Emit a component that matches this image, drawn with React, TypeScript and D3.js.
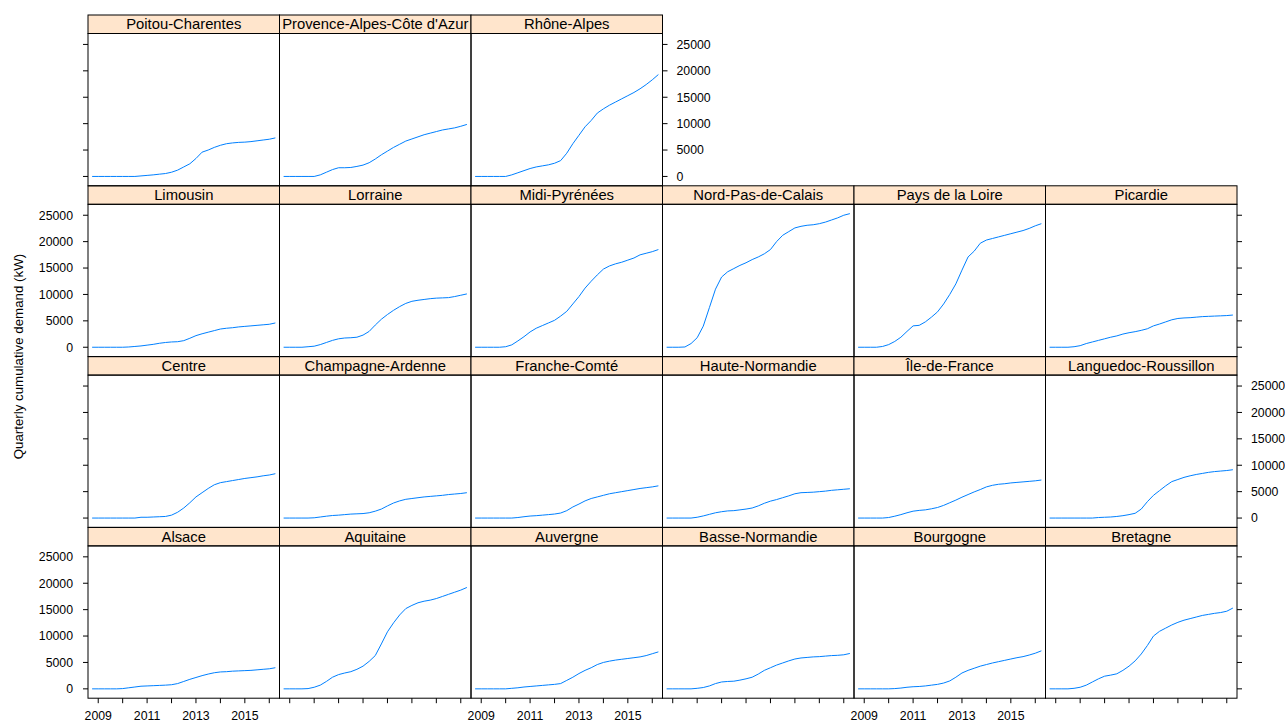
import React from 'react';
import * as d3 from 'd3';

const quarters = [
  2008.75, 2009.0, 2009.25, 2009.5, 2009.75, 2010.0, 2010.25, 2010.5, 2010.75,
  2011.0, 2011.25, 2011.5, 2011.75, 2012.0, 2012.25, 2012.5, 2012.75,
  2013.0, 2013.25, 2013.5, 2013.75, 2014.0, 2014.25, 2014.5, 2014.75,
  2015.0, 2015.25, 2015.5, 2015.75, 2016.0, 2016.25,
];

// panel order as lattice draws it: bottom row first, left to right
const regions = [
  'Alsace', 'Aquitaine', 'Auvergne', 'Basse-Normandie', 'Bourgogne', 'Bretagne',
  'Centre', 'Champagne-Ardenne', 'Franche-Comté', 'Haute-Normandie', 'Île-de-France', 'Languedoc-Roussillon',
  'Limousin', 'Lorraine', 'Midi-Pyrénées', 'Nord-Pas-de-Calais', 'Pays de la Loire', 'Picardie',
  'Poitou-Charentes', "Provence-Alpes-Côte d'Azur", 'Rhône-Alpes',
];

const alsace = [0,0,0,0,0,50,200,350,500,550,600,650,700,780,1000,1400,1800,2150,2500,2800,3050,3200,3250,3350,3400,3450,3500,3600,3700,3800,4000];
const aquitaine = [0,0,0,0,50,300,700,1400,2200,2700,3000,3250,3700,4300,5200,6300,8500,10800,12500,14000,15200,15800,16300,16600,16800,17100,17500,17900,18300,18700,19200];
const auvergne = [0,0,0,0,0,0,100,200,350,450,550,650,750,850,1000,1600,2200,2900,3500,4000,4600,5000,5250,5450,5600,5750,5900,6050,6300,6650,7000];
const basseNormandie = [0,0,0,0,0,100,250,550,1000,1300,1400,1450,1650,1900,2200,2800,3500,4000,4500,4900,5300,5650,5850,5950,6050,6100,6200,6300,6350,6450,6700];
const bourgogne = [0,0,0,0,0,0,50,150,300,400,450,550,700,850,1100,1500,2200,3000,3500,3900,4300,4600,4900,5150,5400,5650,5900,6100,6400,6750,7200];
const bretagne = [0,0,0,0,100,300,700,1300,1900,2400,2600,2850,3500,4300,5300,6600,8200,10000,10900,11500,12100,12600,13000,13300,13600,13900,14100,14300,14450,14700,15300];
const centre = [0,0,0,0,0,0,0,0,150,150,200,250,300,550,1100,1900,2900,4000,4800,5600,6300,6700,6900,7100,7300,7500,7650,7800,8000,8150,8400];
const champagneArdenne = [0,0,0,0,0,50,200,350,480,550,650,750,800,850,1000,1300,1700,2300,2850,3250,3550,3700,3850,4000,4100,4200,4300,4450,4550,4650,4800];
const francheComte = [0,0,0,0,0,0,0,100,250,380,450,550,650,760,950,1400,2100,2650,3250,3700,4000,4300,4600,4800,5000,5200,5400,5600,5750,5900,6100];
const hauteNormandie = [0,0,0,0,0,150,400,700,1000,1200,1350,1400,1550,1700,1900,2300,2800,3200,3500,3850,4200,4600,4800,4850,4900,5000,5100,5250,5350,5450,5550];
const ileDeFrance = [0,0,0,0,0,100,350,650,1000,1300,1450,1550,1750,2000,2400,2900,3400,3950,4450,4950,5400,5900,6200,6400,6500,6650,6750,6850,6950,7050,7200];
const languedocRoussillon = [0,0,0,0,0,0,0,0,100,150,200,300,450,650,900,1700,3100,4300,5200,6100,6900,7300,7700,8000,8250,8450,8650,8800,8900,9000,9150];
const limousin = [0,0,0,0,0,0,50,150,250,400,550,750,900,1000,1050,1250,1700,2200,2550,2850,3150,3450,3600,3700,3850,3950,4050,4150,4250,4350,4600];
const lorraine = [0,0,0,0,100,200,500,900,1300,1600,1750,1800,1900,2300,3000,4200,5300,6200,7000,7700,8300,8700,8900,9050,9200,9300,9350,9400,9600,9850,10100];
const midiPyrenees = [0,0,0,0,0,100,450,1200,2000,2900,3600,4100,4600,5100,5900,6800,8200,9600,11200,12500,13700,14800,15400,15800,16100,16500,16900,17500,17800,18100,18500];
const nordPasDeCalais = [0,0,0,50,700,1800,4000,7500,11000,13300,14300,14900,15500,16000,16600,17100,17700,18500,20000,21200,21900,22600,22900,23100,23200,23400,23700,24100,24500,25000,25300];
const paysDeLaLoire = [0,0,0,0,150,500,1100,1900,3000,4050,4150,4800,5700,6700,8200,10000,12000,14600,17100,18200,19700,20300,20600,20900,21200,21500,21800,22100,22500,23000,23400];
const picardie = [0,0,0,0,100,300,700,1000,1300,1600,1900,2150,2500,2750,2950,3200,3500,4050,4400,4800,5200,5450,5550,5600,5700,5800,5850,5900,5950,6000,6100];
const poitouCharentes = [0,0,0,0,0,0,0,0,100,200,300,430,550,800,1200,1800,2400,3400,4600,5000,5500,5900,6200,6350,6450,6500,6600,6750,6900,7050,7300];
const provence = [0,0,0,0,0,0,300,800,1300,1650,1650,1700,1900,2150,2600,3300,4100,4800,5500,6100,6700,7100,7500,7900,8200,8500,8800,9000,9200,9500,9850];
const rhoneAlpes = [0,0,0,0,0,0,300,700,1100,1500,1800,2000,2200,2500,3000,4400,6200,7800,9400,10600,12000,12800,13500,14100,14700,15300,15900,16600,17400,18300,19300];

const seriesByRegion: Record<string, number[]> = {
  'Alsace': alsace,
  'Aquitaine': aquitaine,
  'Auvergne': auvergne,
  'Basse-Normandie': basseNormandie,
  'Bourgogne': bourgogne,
  'Bretagne': bretagne,
  'Centre': centre,
  'Champagne-Ardenne': champagneArdenne,
  'Franche-Comté': francheComte,
  'Haute-Normandie': hauteNormandie,
  'Île-de-France': ileDeFrance,
  'Languedoc-Roussillon': languedocRoussillon,
  'Limousin': limousin,
  'Lorraine': lorraine,
  'Midi-Pyrénées': midiPyrenees,
  'Nord-Pas-de-Calais': nordPasDeCalais,
  'Pays de la Loire': paysDeLaLoire,
  'Picardie': picardie,
  'Poitou-Charentes': poitouCharentes,
  "Provence-Alpes-Côte d'Azur": provence,
  'Rhône-Alpes': rhoneAlpes,
};

const yTicks = [0, 5000, 10000, 15000, 20000, 25000];
const xTicks = [2009, 2010, 2011, 2012, 2013, 2014, 2015, 2016];
const xTickLabels = ['2009', '', '2011', '', '2013', '', '2015', ''];
const yTitle = 'Quarterly cumulative demand (kW)';

const FONT = "'Liberation Sans', Arial, sans-serif";
const LEFT = 88;
const PANEL_W = 191.5;
const TOP = 15;
const ROW_PITCH = 170.8;
const STRIP_H = 18.5;
const PANEL_H = ROW_PITCH - STRIP_H;
const NCOL = 6;
const NROW = 4;
const TICK = 5;

export default function App() {
  const allVals = regions.flatMap((r) => seriesByRegion[r]);
  const [ymin, ymax] = d3.extent(allVals) as [number, number];
  const ypad = (ymax - ymin) * 0.07;
  const y = d3.scaleLinear().domain([ymin - ypad, ymax + ypad]).range([PANEL_H, 0]);
  const [xmin, xmax] = d3.extent(quarters) as [number, number];
  const xpad = (xmax - xmin) * 0.0225;
  const x = d3.scaleLinear().domain([xmin - xpad, xmax + xpad]).range([0, PANEL_W]);
  const line = d3.line<number>().x((_, i) => x(quarters[i])).y((v) => y(v));

  const panels = regions.map((name, k) => {
    const rowFromBottom = Math.floor(k / NCOL);
    const col = k % NCOL;
    const rowFromTop = NROW - 1 - rowFromBottom;
    const px = LEFT + col * PANEL_W;
    const stripY = TOP + rowFromTop * ROW_PITCH;
    const py = stripY + STRIP_H;
    const nInRow = Math.min(NCOL, regions.length - rowFromBottom * NCOL);
    const isLastInRow = col === nInRow - 1;
    const clipId = `clip-strip-${k}`;
    return (
      <g key={name}>
        <defs>
          <clipPath id={clipId}>
            <rect x={px} y={stripY} width={PANEL_W} height={STRIP_H} />
          </clipPath>
        </defs>
        <rect x={px} y={stripY} width={PANEL_W} height={STRIP_H} fill="#ffe5cc" stroke="none" />
        <text
          x={px + PANEL_W / 2}
          y={stripY + STRIP_H / 2 + 5}
          textAnchor="middle"
          fontSize={14.8}
          fontFamily={FONT}
          fill="#000"
          clipPath={`url(#${clipId})`}
        >
          {name}
        </text>
        <rect x={px} y={stripY} width={PANEL_W} height={STRIP_H} fill="none" stroke="#000" strokeWidth={1} />
        <rect x={px} y={py} width={PANEL_W} height={PANEL_H} fill="none" stroke="#000" strokeWidth={1} />
        <path
          d={line(seriesByRegion[name]) || ''}
          transform={`translate(${px},${py})`}
          fill="none"
          stroke="#0080ff"
          strokeWidth={1}
        />
        {col === 0 &&
          yTicks.map((t) => (
            <g key={`l${t}`}>
              <line x1={px - TICK} x2={px} y1={py + y(t)} y2={py + y(t)} stroke="#000" />
              {rowFromTop % 2 === 1 && (
                <text x={px - 15} y={py + y(t) + 4.3} textAnchor="end" fontSize={12.3} fontFamily={FONT} fill="#000">
                  {t}
                </text>
              )}
            </g>
          ))}
        {isLastInRow &&
          yTicks.map((t) => (
            <g key={`r${t}`}>
              <line x1={px + PANEL_W} x2={px + PANEL_W + TICK} y1={py + y(t)} y2={py + y(t)} stroke="#000" />
              {rowFromTop % 2 === 0 && (
                <text x={px + PANEL_W + 14} y={py + y(t) + 4.3} textAnchor="start" fontSize={12.3} fontFamily={FONT} fill="#000">
                  {t}
                </text>
              )}
            </g>
          ))}
        {rowFromBottom === 0 &&
          xTicks.map((t, i) => (
            <g key={`b${t}`}>
              <line x1={px + x(t)} x2={px + x(t)} y1={py + PANEL_H} y2={py + PANEL_H + TICK} stroke="#000" />
              {col % 2 === 0 && xTickLabels[i] && (
                <text x={px + x(t)} y={py + PANEL_H + 22} textAnchor="middle" fontSize={12.3} fontFamily={FONT} fill="#000">
                  {xTickLabels[i]}
                </text>
              )}
            </g>
          ))}
      </g>
    );
  });

  const midY = TOP + (NROW * ROW_PITCH) / 2;

  return (
    <svg
      width={1285}
      height={726}
      style={{ position: 'absolute', left: 0, top: 0, background: '#fff' }}
    >
      <rect x={0} y={0} width={1285} height={726} fill="#fff" />
      {panels}
      <text
        transform={`translate(23,${midY}) rotate(-90)`}
        textAnchor="middle"
        fontSize={13.3}
        fontFamily={FONT}
        fill="#000"
      >
        {yTitle}
      </text>
    </svg>
  );
}
